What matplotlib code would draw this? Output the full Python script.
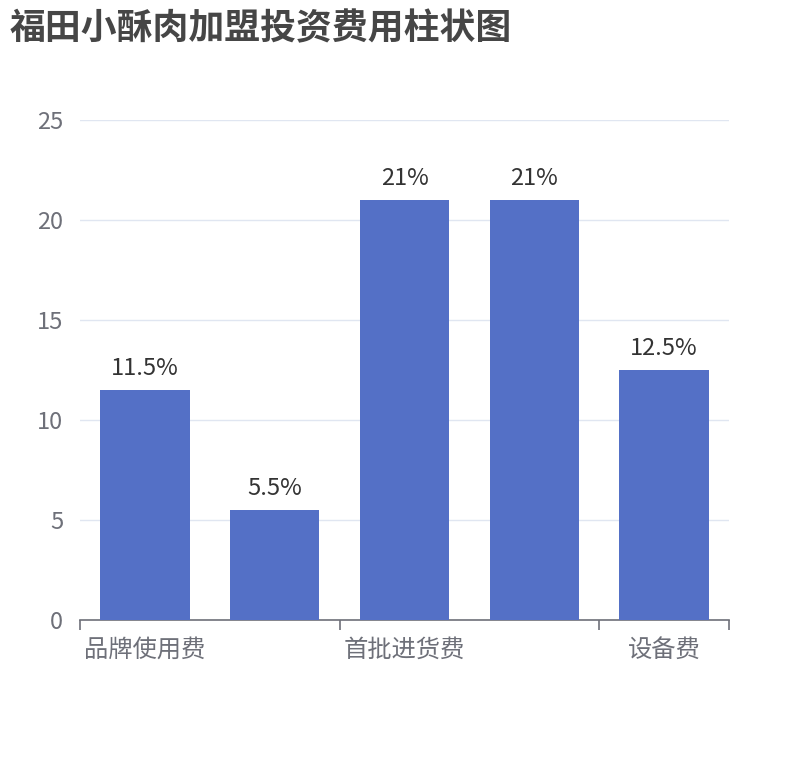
import matplotlib
matplotlib.use('Agg')
import matplotlib.pyplot as plt
import numpy as np

plt.rcParams['font.family'] = ['Noto Sans CJK SC', 'DejaVu Sans']

# chart data
categories = ['品牌使用费', '保证金', '首批进货费', '装修费', '设备费']
values = [11.5, 5.5, 21, 21, 12.5]
bar_labels = ['11.5%', '5.5%', '21%', '21%', '12.5%']
y_ticks = [0, 5, 10, 15, 20, 25]
title = '福田小酥肉加盟投资费用柱状图'

bar_color = '#5470C6'
axis_color = '#6E7079'
grid_color = '#E0E6F1'

fig = plt.figure(figsize=(8.1, 7.6), dpi=100)
ax = fig.add_axes([80 / 810, 140 / 760, 649 / 810, 500 / 760])

x = np.arange(len(categories))
bars = ax.bar(x, values, width=0.69, color=bar_color, zorder=3)

for rect, lab in zip(bars, bar_labels):
    ax.annotate(lab, (rect.get_x() + rect.get_width() / 2, rect.get_height()),
                xytext=(0, 7), textcoords='offset points',
                ha='center', va='bottom', fontsize=17, color='#333333')

ax.set_xlim(-0.5, len(categories) - 0.5)
ax.set_ylim(0, 25)

# y axis: labels only, horizontal grid lines
ax.set_yticks(y_ticks)
ax.tick_params(axis='y', length=0, pad=12, labelsize=17, labelcolor=axis_color)
ax.grid(axis='y', color=grid_color, linewidth=1, zorder=0)

# x axis: every other category label, ticks on category boundaries
ax.set_xticks(x[::2])
ax.set_xticklabels(categories[::2])
ax.tick_params(axis='x', which='major', length=0, pad=12, labelsize=17.5,
               labelcolor=axis_color)
ax.set_xticks([-0.5, 1.5, 3.5, 4.5], minor=True)
ax.tick_params(axis='x', which='minor', length=7, width=1.2, color=axis_color)

for side in ['top', 'right', 'left']:
    ax.spines[side].set_visible(False)
ax.spines['bottom'].set_color(axis_color)
ax.spines['bottom'].set_linewidth(1.2)

fig.text(10 / 810, 1 - 10 / 760, title, ha='left', va='top', fontsize=25.8,
         fontweight='bold', color='#464646')

fig.savefig('out.png', dpi=100)
